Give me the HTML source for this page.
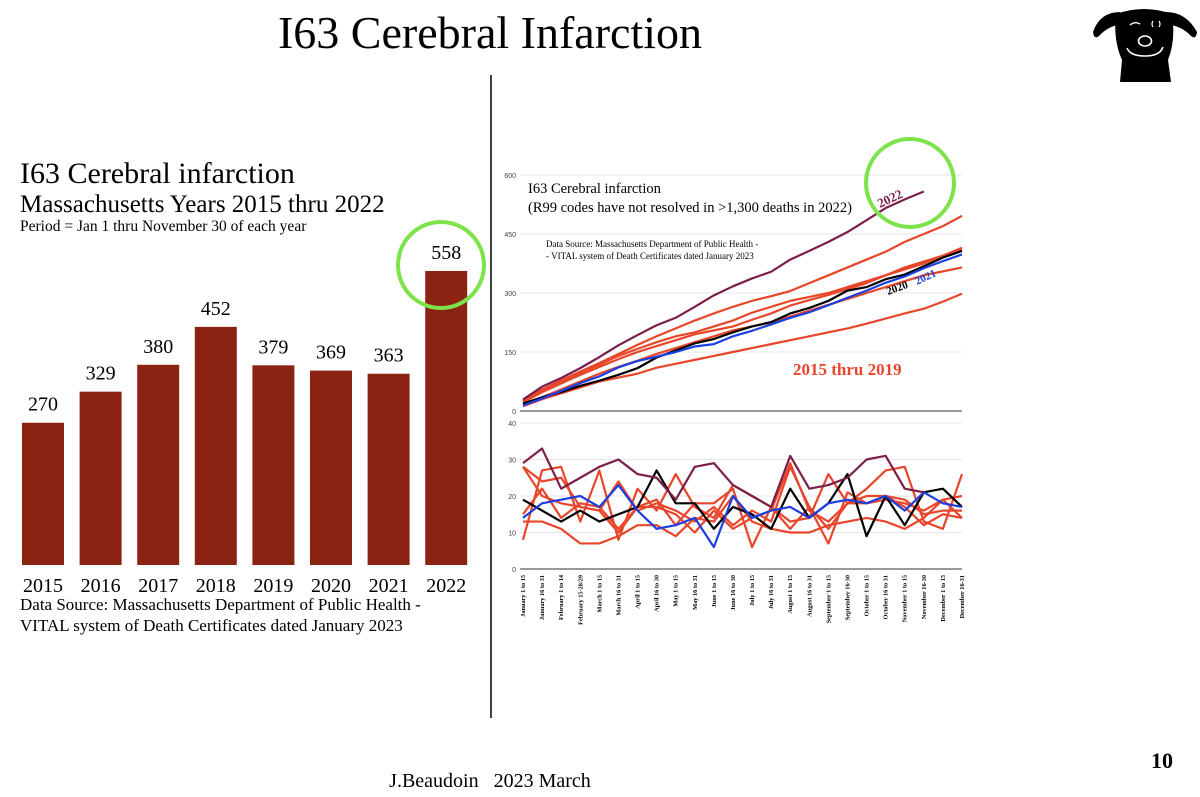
<!DOCTYPE html>
<html><head><meta charset="utf-8"><style>
html,body{margin:0;padding:0;background:#fff;width:1200px;height:797px;overflow:hidden}
svg{display:block}
.serif{font-family:"Liberation Serif",serif}
.sans{font-family:"Liberation Sans",sans-serif}
</style></head><body>
<svg id="slide" width="1200" height="797" viewBox="0 0 1200 797">
<text class="serif" x="490" y="48" font-size="46" text-anchor="middle">I63 Cerebral Infarction</text>
<g>
<path d="M1116 14 Q1144 4 1172 14 Q1176 40 1168 60 L1171 82 L1120 82 L1122 60 Q1113 40 1116 14 Z" fill="#000"/>
<path d="M1120 12 Q1100 12 1093 32 Q1094 40 1099 36 Q1108 26 1122 24 Z" fill="#000"/>
<path d="M1166 12 Q1186 12 1197 32 Q1196 40 1191 36 Q1182 26 1166 24 Z" fill="#000"/>
<path d="M1130 25 Q1135 21 1140 24" stroke="#fff" stroke-width="1.4" fill="none"/>
<path d="M1153 21 Q1151 24 1153 27 M1159 21 Q1161 24 1159 27" stroke="#fff" stroke-width="1.2" fill="none"/>
<ellipse cx="1145" cy="41" rx="6.5" ry="5" fill="none" stroke="#fff" stroke-width="1.6"/>
<path d="M1127 48 Q1130 56 1145 56 Q1160 56 1163 47" stroke="#fff" stroke-width="1.6" fill="none"/>
</g>
<line x1="491" y1="75" x2="491" y2="718" stroke="#000" stroke-width="1.5"/>
<text class="serif" x="20" y="183" font-size="30">I63 Cerebral infarction</text>
<text class="serif" x="20" y="212" font-size="25">Massachusetts Years 2015 thru 2022</text>
<text class="serif" x="20" y="231" font-size="15.5">Period = Jan 1 thru November 30 of each year</text>
<g id="bars"></g>
<text class="serif" x="20" y="610" font-size="17">Data Source:  Massachusetts Department of Public Health -</text>
<text class="serif" x="20" y="631" font-size="17">VITAL system of Death Certificates dated January 2023</text>
<circle cx="441" cy="265" r="43" fill="none" stroke="#7de34a" stroke-width="4"/>
<g id="line"></g>
<text class="serif" x="528" y="193" font-size="14.5">I63 Cerebral infarction</text>
<text class="serif" x="528" y="212" font-size="14.5">(R99 codes have not resolved in &gt;1,300 deaths in 2022)</text>
<text class="serif" x="546" y="247" font-size="9">Data Source:  Massachusetts Department of Public Health -</text>
<text class="serif" x="546" y="259" font-size="9">- VITAL system of Death Certificates dated January 2023</text>
<text class="serif" x="793" y="375" font-size="17" font-weight="bold" fill="#e8462a">2015 thru 2019</text>
<text class="serif" x="0" y="0" font-size="13" font-weight="bold" fill="#7b1f4a" transform="translate(880,208) rotate(-25)">2022</text>
<text class="serif" x="0" y="0" font-size="11" font-weight="bold" fill="#000" transform="translate(888,295) rotate(-20)">2020</text>
<text class="serif" x="0" y="0" font-size="11" font-weight="bold" fill="#1b3fe0" transform="translate(917,285) rotate(-25)">2021</text>
<circle cx="910" cy="183" r="44" fill="none" stroke="#7de34a" stroke-width="4"/>
<text class="serif" x="490" y="787" font-size="20" text-anchor="middle" style="white-space:pre">J.Beaudoin   2023 March</text>
<text class="serif" x="1173" y="768" font-size="22" font-weight="bold" text-anchor="end">10</text>
</svg>
<script>
const NS="http://www.w3.org/2000/svg";
const years=["2015","2016","2017","2018","2019","2020","2021","2022"];
const totals=[270,329,380,452,379,369,363,558];
const periods=["January 1 to 15","January 16 to 31","February 1 to 14","February 15-28/29","March 1 to 15","March 16 to 31","April 1 to 15","April 16 to 30","May 1 to 15","May 16 to 31","June 1 to 15","June 16 to 30","July 1 to 15","July 16 to 31","August 1 to 15","August 16 to 31","September 1 to 15","September 16-30","October 1 to 15","October 16 to 31","November 1 to 15","November 16-30","December 1 to 15","December 16-31"];
const cumTicks=[0,150,300,450,600];
const perTicks=[0,10,20,30,40];
const cum2022=[29,62,84,109,137,167,193,218,237,265,294,317,337,354,385,407,430,455,485,516,538,558];
const cum2020=[19,35,48,64,77,92,109,136,154,172,183,200,215,226,248,262,280,306,315,335,347,368,390,407];
const cum2021=[14,32,51,71,88,111,127,138,150,164,170,190,204,220,237,251,269,288,306,326,342,363,381,398];
const cumRedA=[28,55,78,100,122,145,168,190,210,230,248,265,280,292,305,325,345,365,385,405,430,450,470,496];
const cumRedB=[25,52,75,98,118,140,158,175,190,200,215,230,250,265,280,290,300,315,330,345,360,375,395,415];
const cumRedC=[22,48,70,92,112,132,150,165,180,195,205,215,232,248,268,282,295,310,325,345,365,380,395,410];
const cumRedD=[15,35,55,75,95,112,128,145,160,175,190,205,215,225,240,255,270,285,300,315,330,345,355,365];
const cumRedE=[12,30,45,60,75,85,95,110,120,130,140,150,160,170,180,190,200,210,222,235,248,260,278,298];
const per2022=[29,33,22,25,28,30,26,25,19,28,29,23,20,17,31,22,23,25,30,31,22,21];
const per2020=[19,16,13,16,13,15,17,27,18,18,11,17,15,11,22,14,18,26,9,20,12,21,22,17];
const per2021=[14,18,19,20,17,23,16,11,12,14,6,20,14,16,17,14,18,19,18,20,16,21,18,17];
const perRedA=[28,20,18,17,16,24,16,18,16,13,17,12,16,13,28,17,11,18,18,19,18,16,19,14];
const perRedB=[28,24,25,17,16,10,17,17,15,10,16,11,14,16,29,16,13,18,22,27,28,13,11,26];
const perRedC=[13,13,11,7,7,9,12,12,9,14,13,20,13,11,10,10,12,13,14,13,11,14,19,20];
const perRedD=[8,27,28,13,27,8,22,16,26,17,14,23,20,17,13,14,26,18,20,20,17,12,15,14];
const perRedE=[15,22,14,18,17,11,17,19,12,18,18,22,6,17,11,17,7,21,18,20,19,15,16,16];

function mk(tag,attrs,parent){const e=document.createElementNS(NS,tag);for(const k in attrs)e.setAttribute(k,attrs[k]);parent.appendChild(e);return e;}

const bg=document.getElementById("bars");
const barBase=565, barScale=294/558, barX0=43, barStep=57.6, barW=42;
const by=v=>barBase-v*barScale, bx=i=>barX0+i*barStep;
years.forEach((y,i)=>{
  const r=mk("rect",{x:bx(i)-barW/2,y:by(totals[i]),width:barW,height:barBase-by(totals[i]),fill:"#8b2312"},bg);
  
  
  const t=mk("text",{x:bx(i),y:by(totals[i])-12,"font-size":20,"text-anchor":"middle",class:"serif"},bg);
  t.textContent=totals[i];
  
  
  const l=mk("text",{x:bx(i),y:592,"font-size":20,"text-anchor":"middle",class:"serif"},bg);
  l.textContent=y;
  
  
});

const lg=document.getElementById("line");
const x0=523, xStep=(962-523)/23;
const lx=i=>x0+i*xStep;
const cy=v=>411-v*(59/150);
const py=v=>569-v*(146/40);
cumTicks.forEach(t=>{
  mk("line",{x1:520,x2:962,y1:cy(t),y2:cy(t),stroke:t===0?"#333":"#e6e6e6","stroke-width":1},lg);
  const e=mk("text",{x:516,y:cy(t)+3,"font-size":7,"text-anchor":"end",class:"sans",fill:"#444"},lg);
  e.textContent=t;
  
  
});
perTicks.forEach(t=>{
  mk("line",{x1:520,x2:962,y1:py(t),y2:py(t),stroke:t===0?"#333":"#e6e6e6","stroke-width":1},lg);
  const e=mk("text",{x:516,y:py(t)+3,"font-size":7,"text-anchor":"end",class:"sans",fill:"#444"},lg);
  e.textContent=t;
  
  
});
periods.forEach((p,i)=>{
  const e=mk("text",{x:0,y:0,"font-size":6.3,"font-weight":"bold","text-anchor":"end",class:"serif",transform:`translate(${lx(i)+2},575) rotate(-90)`},lg);
  e.textContent=p;
  
  
});
const red="#e8462a";
const series=[
 ["cum-2015-a",cumRedA,red,cy],["cum-2015-b",cumRedB,red,cy],["cum-2015-c",cumRedC,red,cy],["cum-2015-d",cumRedD,red,cy],["cum-2015-e",cumRedE,red,cy],
 ["cum-2020",cum2020,"#000",cy],["cum-2021",cum2021,"#1b3fe0",cy],["cum-2022",cum2022,"#7b1f4a",cy],
 ["per-2015-a",perRedA,red,py],["per-2015-b",perRedB,red,py],["per-2015-c",perRedC,red,py],["per-2015-d",perRedD,red,py],["per-2015-e",perRedE,red,py],
 ["per-2020",per2020,"#000",py],["per-2021",per2021,"#1b3fe0",py],["per-2022",per2022,"#7b1f4a",py]
];
series.forEach(([n,d,c,f])=>{
  const pl=mk("polyline",{points:d.map((v,i)=>lx(i)+","+f(v)).join(" "),fill:"none",stroke:c,"stroke-width":2.2,"stroke-linejoin":"round"},lg);
  
  
});
</script>
</body></html>
